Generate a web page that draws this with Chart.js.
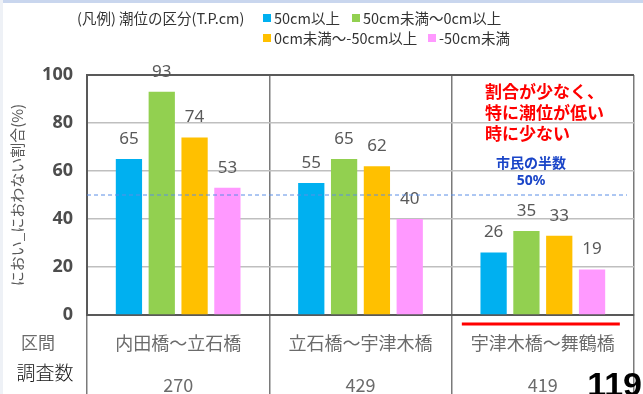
<!DOCTYPE html>
<html>
<head>
<meta charset="utf-8">
<script src="https://cdn.jsdelivr.net/npm/chart.js@4.4.1/dist/chart.umd.min.js"></script>
<style>
  html, body { margin: 0; padding: 0; background: #fff; overflow: hidden; }
  #wrap { position: relative; width: 643px; height: 394px; }
</style>
</head>
<body>
<div id="wrap"><canvas id="tideChart"></canvas></div>
<script>
// Data
const categories = ['内田橋～立石橋', '立石橋～宇津木橋', '宇津木橋～舞鶴橋'];
const counts = [270, 429, 419];
const seriesNames = ['50cm以上', '50cm未満～0cm以上', '0cm未満～-50cm以上', '-50cm未満'];
const above50 = [65, 55, 26];
const from0to50 = [93, 65, 35];
const from0toM50 = [74, 62, 33];
const belowM50 = [53, 40, 19];
const yTicks = [0, 20, 40, 60, 80, 100];
const halfLine = 50;

const COLORS = ['#00B0F0', '#92D050', '#FFC000', '#FF99FF'];
const JP = '"Noto Sans CJK JP", "Noto Sans", sans-serif';
Chart.defaults.font.family = JP;

const series = [above50, from0to50, from0toM50, belowM50];

// legend, notes, table text etc.
const decoPlugin = {
  id: 'deco',
  beforeDraw(chart) {
    const ctx = chart.ctx;
    ctx.save();
    ctx.fillStyle = '#c9d6ee';
    ctx.fillRect(0, 0, chart.width, 3);
    ctx.fillStyle = '#eef1f6';
    ctx.fillRect(0, 0, 3, chart.height);
    ctx.restore();
  },
  afterDatasetsDraw(chart) {
    const ctx = chart.ctx;
    const area = chart.chartArea;
    const y = chart.scales.y;
    const x = chart.scales.x;
    ctx.save();

    // value labels
    ctx.font = '17px "Noto Sans", sans-serif';
    ctx.fillStyle = '#595959';
    ctx.textAlign = 'center';
    ctx.textBaseline = 'middle';
    chart.data.datasets.forEach((ds, di) => {
      const meta = chart.getDatasetMeta(di);
      ds.data.forEach((v, i) => {
        const bar = meta.data[i];
        ctx.fillText(v, bar.x, bar.y - 20);
      });
    });

    // 50% dashed line
    const y50 = y.getPixelForValue(halfLine);
    ctx.strokeStyle = '#5b8ee6';
    ctx.lineWidth = 1;
    ctx.setLineDash([4, 3]);
    ctx.beginPath();
    ctx.moveTo(area.left, y50);
    ctx.lineTo(area.right - 7, y50);
    ctx.stroke();
    ctx.setLineDash([]);

    // notes
    ctx.fillStyle = '#1a45c8';
    ctx.font = 'bold 14px ' + JP;
    ctx.fillText('市民の半数', 531, 163);
    ctx.font = 'bold 14px "Noto Sans", sans-serif';
    ctx.fillText(halfLine + '%', 531, 181);

    ctx.fillStyle = '#ff0000';
    ctx.font = 'bold 17px ' + JP;
    ctx.textAlign = 'left';
    ctx.fillText('割合が少なく、', 485, 92);
    ctx.fillText('特に潮位が低い', 485, 113);
    ctx.fillText('時に少ない', 485, 134);

    // red underline under the third section
    const x2 = x.getPixelForValue(2);
    ctx.strokeStyle = '#ff0000';
    ctx.lineWidth = 3;
    ctx.beginPath();
    ctx.moveTo(x2 - 81, 324);
    ctx.lineTo(x2 + 77, 324);
    ctx.stroke();

    // legend
    ctx.fillStyle = '#333';
    ctx.font = '14.5px ' + JP;
    ctx.textBaseline = 'middle';
    ctx.fillText('(凡例) 潮位の区分(T.P.cm)', 77, 18);
    const pos = [[263, 18], [352, 18], [263, 38], [428, 38]];
    seriesNames.forEach((name, i) => {
      const p = pos[i];
      ctx.fillStyle = COLORS[i];
      ctx.fillRect(p[0], p[1] - 4, 8, 8);
      ctx.fillStyle = '#333';
      ctx.fillText(name, p[0] + 11, p[1]);
    });

    // table row headers
    ctx.textAlign = 'center';
    ctx.fillStyle = '#6b6b6b';
    ctx.font = '17px ' + JP;
    ctx.fillText('区間', 38, 343);
    ctx.fillStyle = '#111';
    ctx.font = '300 19px ' + JP;
    ctx.fillText('調査数', 45, 373);

    // page number
    ctx.fillStyle = '#000';
    ctx.font = 'bold 34px "Liberation Sans Narrow", "Liberation Sans", sans-serif';
    ctx.textAlign = 'right';
    ctx.textBaseline = 'alphabetic';
    ctx.fillText('119', 642, 396);
    ctx.restore();
  }
};

new Chart(document.getElementById('tideChart'), {
  type: 'bar',
  data: {
    labels: categories.map((c, i) => [c, '', String(counts[i])]),
    datasets: series.map((d, i) => ({
      label: seriesNames[i],
      data: d,
      backgroundColor: COLORS[i],
      categoryPercentage: 0.72,
      barPercentage: 0.8
    }))
  },
  options: {
    responsive: true,
    maintainAspectRatio: false,
    animation: false,
    layout: { padding: { top: 75, right: 9, left: 0, bottom: 0 } },
    plugins: { legend: { display: false }, tooltip: { enabled: false } },
    scales: {
      x: {
        afterFit: s => { s.height = 79; },
        grid: {
          color: '#7a7a7a',
          lineWidth: 1.5,
          drawTicks: true,
          tickLength: 79
        },
        border: { color: '#595959', width: 2 },
        ticks: {
          color: '#6b6b6b',
          padding: -61,
          font: { size: 18, lineHeight: 1.17 }
        }
      },
      y: {
        min: 0,
        max: 100,
        afterFit: s => { s.width = 87; },
        afterBuildTicks: s => { s.ticks = yTicks.map(v => ({ value: v })); },
        grid: {
          drawTicks: false,
          color: ctx => ctx.tick && ctx.tick.value === 100 ? '#595959' : '#bfbfbf',
          lineWidth: ctx => ctx.tick && ctx.tick.value === 100 ? 2 : 1.5
        },
        border: { color: '#595959', width: 2 },
        ticks: {
          color: '#4d4d4d',
          padding: 14,
          font: { size: 18, weight: 'bold', family: '"Noto Sans", sans-serif' }
        },
        title: {
          display: true,
          text: 'におい_におわない割合(%)',
          color: '#595959',
          font: { size: 15 },
          padding: { top: 8, bottom: 0 }
        }
      }
    }
  },
  plugins: [decoPlugin]
});
</script>
</body>
</html>
